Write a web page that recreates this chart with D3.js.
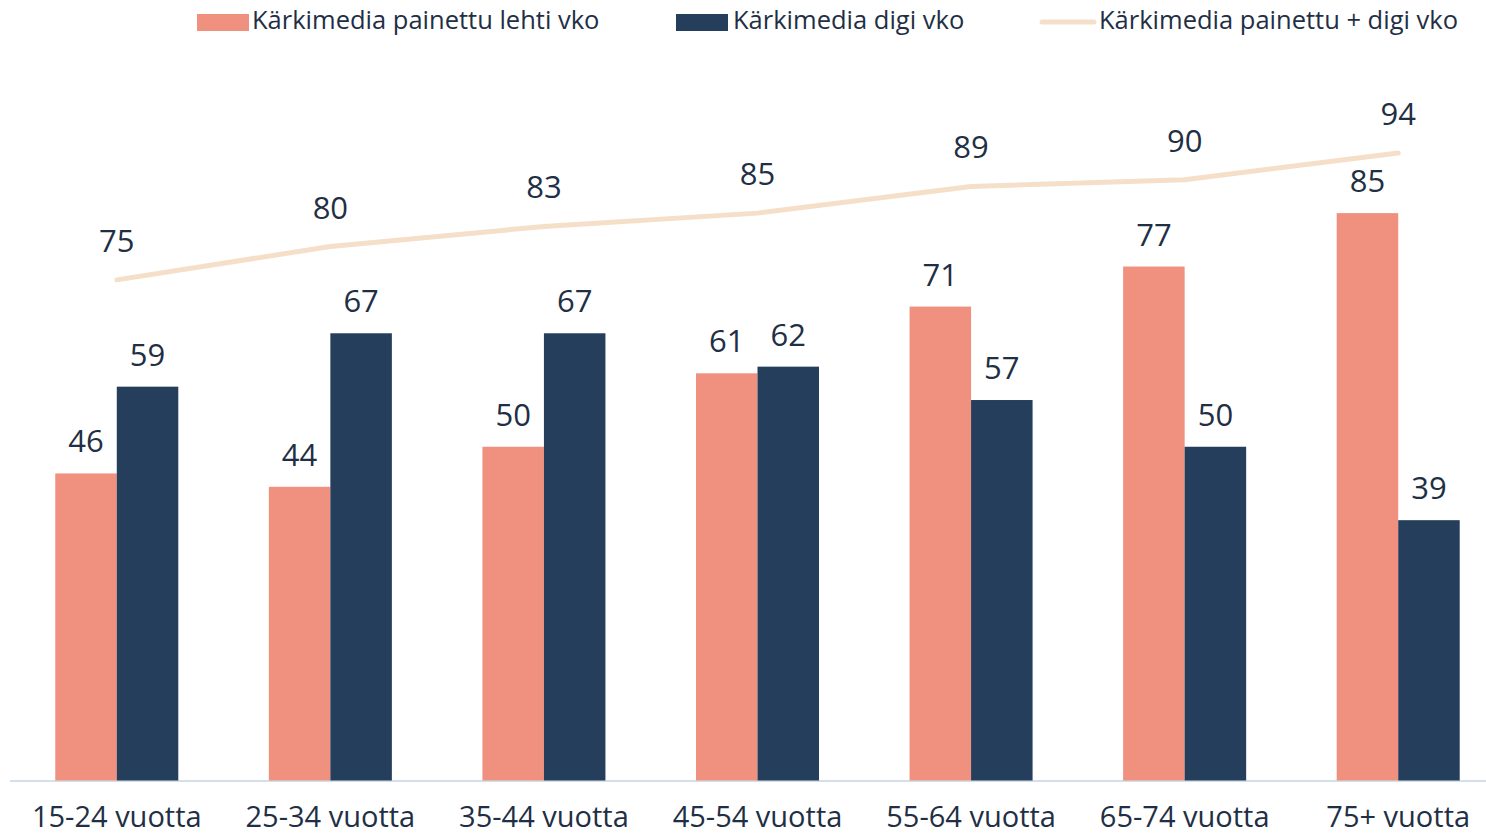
<!DOCTYPE html>
<html>
<head>
<meta charset="utf-8">
<script src="https://cdn.jsdelivr.net/npm/d3@7"></script>
<style>
  html, body { margin: 0; padding: 0; background: #fff; }
  svg { display: block; font-family: "Open Sans", "Noto Sans", sans-serif; }
</style>
</head>
<body>
<svg id="chart" width="1486" height="836"></svg>
<script>
// Age groups and weekly reach (%) per channel
const categories = ["15-24 vuotta", "25-34 vuotta", "35-44 vuotta", "45-54 vuotta", "55-64 vuotta", "65-74 vuotta", "75+ vuotta"];
const printValues = [46, 44, 50, 61, 71, 77, 85];
const digiValues = [59, 67, 67, 62, 57, 50, 39];
const totalValues = [75, 80, 83, 85, 89, 90, 94];
const seriesNames = ["Kärkimedia painettu lehti vko", "Kärkimedia digi vko", "Kärkimedia painettu + digi vko"];

const colPrint = "#F0907E";
const colDigi = "#243E5C";
const colTotal = "#F5DFC8";
const textCol = "#1F2F45";

const svg = d3.select("#chart");

const x0 = d3.scaleBand()
  .domain(categories)
  .range([10, 1505])
  .paddingInner(0.424)
  .paddingOuter(0.212);

const x1 = d3.scaleBand()
  .domain(["print", "digi"])
  .range([0, x0.bandwidth()]);

const y = d3.scaleLinear().domain([0, 100]).range([780.5, 113]);

const rows = categories.map((c, i) => ({ cat: c, print: printValues[i], digi: digiValues[i], total: totalValues[i] }));

// baseline axis
svg.append("line")
  .attr("x1", 10).attr("x2", 1486)
  .attr("y1", 781).attr("y2", 781)
  .attr("stroke", "#D3DFEA").attr("stroke-width", 2);

// bars
const groups = svg.append("g").selectAll("g")
  .data(rows).join("g")
  .attr("transform", d => `translate(${x0(d.cat)},0)`);

groups.selectAll("rect")
  .data(d => [{ k: "print", v: d.print }, { k: "digi", v: d.digi }])
  .join("rect")
  .attr("x", d => x1(d.k))
  .attr("width", x1.bandwidth())
  .attr("y", d => y(d.v))
  .attr("height", d => y(0) - y(d.v))
  .attr("fill", d => d.k === "print" ? colPrint : colDigi);

groups.selectAll("text.bar")
  .data(d => [{ k: "print", v: d.print }, { k: "digi", v: d.digi }])
  .join("text")
  .attr("class", "bar")
  .attr("x", d => x1(d.k) + x1.bandwidth() / 2)
  .attr("y", d => y(d.v) - 21)
  .attr("text-anchor", "middle")
  .attr("font-size", 31)
  .attr("fill", textCol)
  .text(d => d.v);

// combined reach line
const cx = d => x0(d.cat) + x0.bandwidth() / 2;
svg.append("path")
  .datum(rows)
  .attr("d", d3.line().x(cx).y(d => y(d.total)))
  .attr("fill", "none")
  .attr("stroke", colTotal)
  .attr("stroke-width", 5)
  .attr("stroke-linecap", "round")
  .attr("stroke-linejoin", "round");

svg.append("g").selectAll("text")
  .data(rows).join("text")
  .attr("x", cx)
  .attr("y", d => y(d.total) - 28)
  .attr("text-anchor", "middle")
  .attr("font-size", 31)
  .attr("fill", textCol)
  .text(d => d.total);

// category labels
const xAxis = svg.append("g")
  .attr("transform", "translate(0,781)")
  .call(d3.axisBottom(x0).tickSize(0).tickPadding(0));
xAxis.select(".domain").remove();
xAxis.selectAll("text")
  .attr("y", 46)
  .attr("dy", 0)
  .attr("font-size", 29)
  .attr("font-family", "\"Open Sans\", \"Noto Sans\", sans-serif")
  .attr("fill", textCol);

// legend
const legend = svg.append("g");
const legendItems = [
  { name: seriesNames[0], type: "rect", color: colPrint, x: 197, tx: 252 },
  { name: seriesNames[1], type: "rect", color: colDigi, x: 676, tx: 733 },
  { name: seriesNames[2], type: "line", color: colTotal, x: 1042, tx: 1099 }
];
legendItems.forEach(it => {
  if (it.type === "rect") {
    legend.append("rect").attr("x", it.x).attr("y", 14).attr("width", 52).attr("height", 17).attr("fill", it.color);
  } else {
    legend.append("line").attr("x1", it.x).attr("x2", it.x + 52).attr("y1", 22).attr("y2", 22)
      .attr("stroke", it.color).attr("stroke-width", 5).attr("stroke-linecap", "round");
  }
  legend.append("text").attr("x", it.tx).attr("y", 29)
    .attr("font-size", 25.5).attr("fill", textCol).text(it.name);
});
</script>
</body>
</html>
